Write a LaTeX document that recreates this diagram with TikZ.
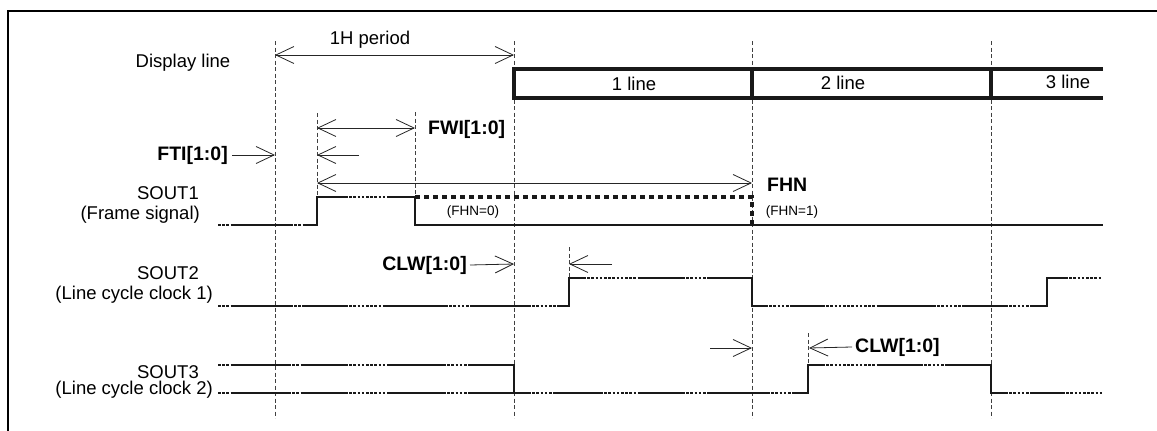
\documentclass[tikz,border=0pt]{standalone}
\usepackage{fontspec}
\setmainfont{Liberation Sans}
\usetikzlibrary{arrows.meta}
\begin{document}
\begin{tikzpicture}[x=1pt,y=-1pt,
			lbl/.style={font=\fontsize{18.5}{21}\selectfont, inner sep=0pt},
			boldlbl/.style={font=\fontsize{19.5}{22}\selectfont\bfseries, inner sep=0pt},
			smalllbl/.style={font=\fontsize{13.5}{15}\selectfont, inner sep=0pt},
			guide/.style={line width=0.8pt, black!75, dash pattern=on 4pt off 2.5pt},
			dimboth/.style={line width=0.8pt, black!85, {Straight Barb[length=18pt,width=17pt]}-{Straight Barb[length=18pt,width=17pt]}},
			dimone/.style={line width=0.8pt, black!85, -{Straight Barb[length=18pt,width=17pt]}},
			sig/.style={line width=2.2pt, black!90},
			sigdot/.style={line width=2.2pt, black!90, dash pattern=on 2.6pt off 1.6pt},
			fhnline/.style={line width=4pt, black!90, dash pattern=on 4.5pt off 4.5pt},
			linebox/.style={line width=3.8pt, black!90},
			]
			\useasboundingbox (0,0) rectangle (1157,431);
			% frame
			\draw[line width=2.4pt] (1157,11) -- (8,11) -- (8,431);
			% guide lines
			\foreach \x/\ya/\yb in {275/41/418, 514/41/418, 752/41/418, 991/41/418,
				317/113/197, 415/112/197, 569/247/278, 808/333/365}
				\draw[guide] (\x,\ya) -- (\x,\yb);
			% display line
			\node[lbl] at (183,63) (disp) {Display line};
			\draw[linebox] (1103,69) -- (514,69) -- (514,98) -- (1103,98);
			\draw[linebox] (752,69) -- (752,98);
			\draw[linebox] (991,69) -- (991,98);
			\node[lbl] at (634,84) (line1) {1 line};
			\node[lbl] at (843,83) (line2) {2 line};
			\node[lbl] at (1068,82) (line3) {3 line};
			\coordinate (hpA) at (275,55);
			\coordinate (hpB) at (514,55);
			\draw[dimboth] (hpA) -- (hpB);
			\node[lbl] at (370,40) (hperiod) {1H period};
			% FWI / FTI
			\coordinate (fwA) at (317,128);
			\coordinate (fwB) at (415,128);
			\draw[dimboth] (fwA) -- (fwB);
			\node[boldlbl, anchor=west] at (428,129) (fwi) {FWI[1:0]};
			\node[boldlbl, anchor=east] at (228,155) (fti) {FTI[1:0]};
			\coordinate (ftA) at (275,155);
			\coordinate (ftB) at (359,155);
			\coordinate (ftC) at (317,155);
			\draw[dimone] (fti.east) ++(4,0) -- (ftA);
			\draw[dimone] (ftB) -- (ftC);
			% FHN
			\coordinate (fhA) at (317,183);
			\coordinate (fhB) at (752,183);
			\draw[dimboth] (fhA) -- (fhB);
			\node[boldlbl, anchor=west] at (767,185) (fhn) {FHN};
			\node[smalllbl] at (473,212) (fhn0) {(FHN=0)};
			\node[smalllbl] at (792,212) (fhn1) {(FHN=1)};
			% signal names
			\node[lbl, anchor=east] at (199,193) (s1) {SOUT1};
			\node[lbl, anchor=east] at (200,215) (s1b) {(Frame signal)};
			\node[lbl, anchor=east] at (199,273) (s2) {SOUT2};
			\node[lbl, anchor=east] at (213,295) (s2b) {(Line cycle clock 1)};
			\node[lbl, anchor=east] at (199,372) (s3) {SOUT3};
			\node[lbl, anchor=east] at (213,390) (s3b) {(Line cycle clock 2)};
			% SOUT1
			\draw[sig] (232,225) -- (290,225);
			\draw[sig] (303,225) -- (317,225) -- (317,197) -- (345,197);
			\draw[sig] (387,197) -- (415,197) -- (415,225) -- (1103,225);
			\foreach \a/\b/\y in {218/232/225, 290/303/225, 345/387/197}
				\draw[sigdot] (\a,\y) -- (\b,\y);
			\draw[fhnline] (415,197) -- (752,197) -- (752,225);
			% SOUT2
			\foreach \a/\b/\y in {232/290/306, 302/345/306, 385/445/306, 470/528/306,
				638/682/278, 793/822/306, 877/933/306, 962/1005/306}
				\draw[sig] (\a,\y) -- (\b,\y);
			\draw[sig] (557,306) -- (569,306) -- (569,278) -- (583,278);
			\draw[sig] (710,278) -- (752,278) -- (752,306) -- (765,306);
			\draw[sig] (1032,306) -- (1047,306) -- (1047,278) -- (1065,278);
			\foreach \a/\b/\y in {218/232/306, 290/302/306, 345/385/306, 445/470/306,
				528/557/306, 583/638/278, 682/710/278, 765/793/306, 822/877/306,
				933/962/306, 1005/1032/306, 1065/1102/278}
				\draw[sigdot] (\a,\y) -- (\b,\y);
			\coordinate (clA) at (514,264);
			\coordinate (clB) at (612,264);
			\coordinate (clC) at (569,264);
			\node[boldlbl, anchor=east] at (467,265) (clw1) {CLW[1:0]};
			\draw[dimone] (clw1.east) ++(3,0) -- (clA);
			\draw[dimone] (clB) -- (clC);
			% SOUT3
			\foreach \a/\b/\y in {232/288/365, 303/345/365, 387/443/365,
				232/288/393, 303/345/393, 387/443/393, 470/528/393, 555/600/393,
				638/682/393, 710/767/393, 877/920/365, 1032/1062/393}
				\draw[sig] (\a,\y) -- (\b,\y);
			\draw[sig] (470,365) -- (514,365) -- (514,393);
			\draw[sig] (793,393) -- (808,393) -- (808,365) -- (822,365);
			\draw[sig] (948,365) -- (991,365) -- (991,393) -- (1005,393);
			\foreach \a/\b/\y in {218/232/365, 288/303/365, 345/387/365, 443/470/365,
				218/232/393, 288/303/393, 345/387/393, 443/470/393, 528/555/393,
				600/638/393, 682/710/393, 767/793/393, 822/877/365, 920/948/365,
				1005/1032/393, 1062/1102/393}
				\draw[sigdot] (\a,\y) -- (\b,\y);
			\coordinate (cwA) at (710,348);
			\coordinate (cwB) at (752,348);
			\coordinate (cwC) at (809,348);
			\draw[dimone] (cwA) -- (cwB);
			\node[boldlbl, anchor=west] at (855,347) (clw2) {CLW[1:0]};
			\draw[dimone] (clw2.west) ++(-3,0) -- (cwC);
		\end{tikzpicture}
\end{document}
